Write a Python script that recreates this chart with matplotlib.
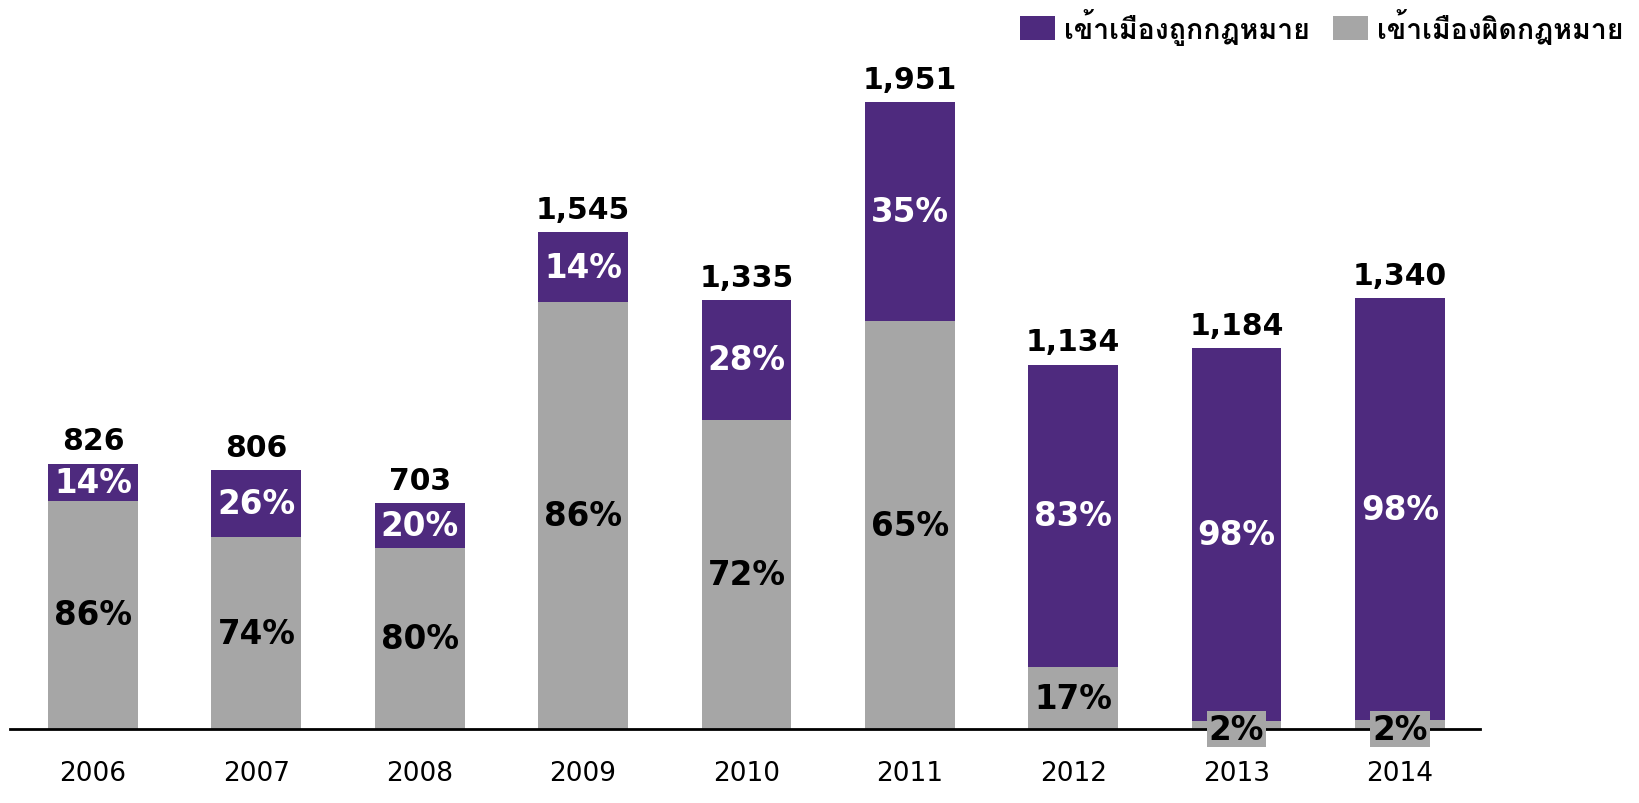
import matplotlib
matplotlib.use('Agg')
import matplotlib.pyplot as plt
from matplotlib import font_manager, ft2font
from matplotlib.patches import Patch

years = ['2006', '2007', '2008', '2009', '2010', '2011', '2012', '2013', '2014']
totals = [826, 806, 703, 1545, 1335, 1951, 1134, 1184, 1340]
legal_pct = [14, 26, 20, 14, 28, 35, 83, 98, 98]
illegal_pct = [100 - p for p in legal_pct]
legend_labels = ['เข้าเมืองถูกกฎหมาย', 'เข้าเมืองผิดกฎหมาย']

purple = '#4E2A7E'
grey = '#A6A6A6'

# find any installed font that has Thai glyphs
thai_font = None
for f in font_manager.fontManager.ttflist:
    try:
        if 0x0E40 in ft2font.FT2Font(f.fname).get_charmap():
            thai_font = f.name
            break
    except Exception:
        pass
thai_family = [thai_font, 'DejaVu Sans'] if thai_font else ['DejaVu Sans']

legal = [t * p / 100 for t, p in zip(totals, legal_pct)]
illegal = [t - l for t, l in zip(totals, legal)]
x = list(range(len(years)))

fig = plt.figure(figsize=(16.4, 8.04), dpi=100)
ax = fig.add_axes([0.0064, 0.092, 0.896, 0.8396])

ax.bar(x, illegal, width=0.55, color=grey)
ax.bar(x, legal, width=0.55, bottom=illegal, color=purple)

for i in x:
    ax.text(i, totals[i] + 25, f'{totals[i]:,}', ha='center', va='bottom',
            fontsize=21.5, fontweight='bold', color='black')
    ax.text(i, legal[i] / 2 + illegal[i], f'{legal_pct[i]}%', ha='center', va='center',
            fontsize=23.5, fontweight='bold', color='white')
    if illegal_pct[i] < 5:
        # tiny segment: label sits on the baseline with a grey box behind it
        ax.text(i, 0, f'{illegal_pct[i]}%', ha='center', va='center',
                fontsize=23.5, fontweight='bold', color='black', zorder=3,
                bbox=dict(facecolor=grey, edgecolor='none', pad=1.5))
    else:
        ax.text(i, illegal[i] / 2, f'{illegal_pct[i]}%', ha='center', va='center',
                fontsize=23.5, fontweight='bold', color='black')

ax.set_xlim(-0.505, 8.49)
ax.set_ylim(0, 2100)
ax.set_xticks(x)
ax.set_xticklabels(years, fontsize=19)
ax.tick_params(axis='x', length=0, pad=22)
ax.set_yticks([])
for s in ['top', 'right', 'left']:
    ax.spines[s].set_visible(False)
ax.spines['bottom'].set_linewidth(2)
ax.spines['bottom'].set_zorder(1)

handles = [Patch(facecolor=purple), Patch(facecolor=grey)]
fig.legend(handles, legend_labels, ncol=2, loc='upper right', bbox_to_anchor=(0.995, 1.0),
           frameon=False, handlelength=1.25, handleheight=0.9, columnspacing=0.8,
           handletextpad=0.3, borderaxespad=0, borderpad=0.3,
           prop={'family': thai_family, 'weight': 'bold', 'size': 20.5})

fig.savefig('out.png', dpi=100)
